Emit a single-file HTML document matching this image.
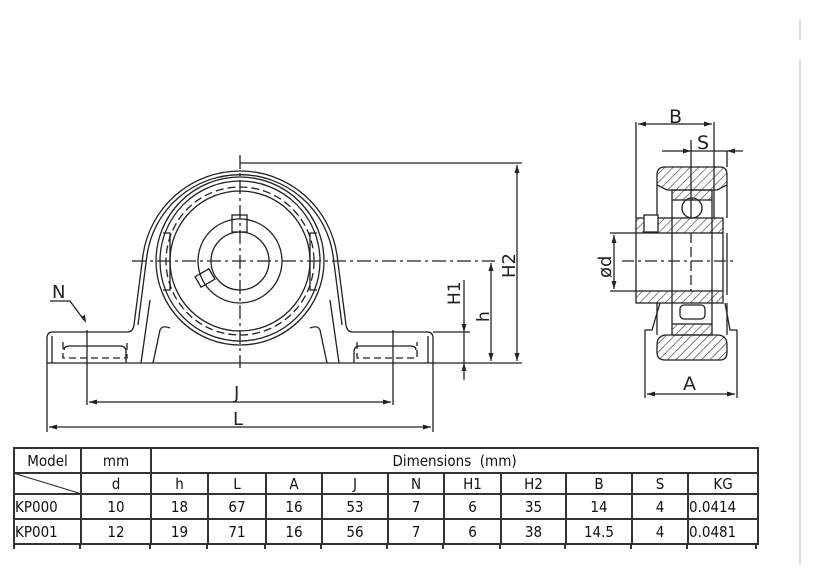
<!DOCTYPE html>
<html><head><meta charset="utf-8"><style>
html,body{margin:0;padding:0;background:#fff;}
body{width:820px;height:572px;position:relative;overflow:hidden;font-family:"Liberation Sans",sans-serif;}
svg{position:absolute;left:0;top:0;}
table{position:absolute;left:13px;top:447px;border-collapse:collapse;table-layout:fixed;width:744px;font-size:15px;color:#111;font-family:"DejaVu Sans Condensed","Liberation Sans",sans-serif;}
td{border:2px solid #333;text-align:center;padding:0;line-height:18px;overflow:hidden;white-space:nowrap;}
</style></head><body>
<svg width="820" height="572" viewBox="0 0 820 572" fill="none" stroke="#222" stroke-width="1.3">
<defs>
<pattern id="h" width="6" height="6" patternUnits="userSpaceOnUse" patternTransform="rotate(45)">
<line x1="0" y1="0" x2="0" y2="6" stroke="#333" stroke-width="1.2"/></pattern>
</defs>
<line x1="800" y1="20" x2="800" y2="40" stroke="#ccc"/>
<line x1="800" y1="60" x2="800" y2="565" stroke="#ccc"/>
<path d="M47,338 Q47,332 53,332 L127,332 Q133,332 134,325 L143,255 A98,98 0 0 1 337,255 L346,325 Q347,332 353,332 L427,332 Q433,332 433,338 L433,363 L47,363 Z"/>
<path d="M52,336 L52,363 M428,336 L428,363"/>
<path d="M138,325 L147,255 A94,94 0 0 1 333,255 L342,325" />
<path d="M141,363 L150,300 M339,363 L330,300"/>
<path d="M153,363 L160,330 Q162,325 170,328 M327,363 L320,330 Q318,325 310,328"/>
<circle cx="240" cy="261" r="84"/>
<circle cx="240" cy="261" r="80"/>
<circle cx="240" cy="261" r="74" stroke-dasharray="8 4"/>
<circle cx="240" cy="261" r="70"/>
<circle cx="240" cy="261" r="42"/>
<circle cx="240" cy="261" r="29"/>
<rect x="232" y="215" width="15" height="17"/>
<rect x="197" y="272" width="16" height="12" transform="rotate(-30 205 278)"/>
<path d="M163,233 L170,233 L170,290 L163,290 M317,233 L310,233 L310,290 L317,290"/>
<path d="M63,342 L63,358 L127,358 L127,342 M357,342 L357,358 L417,358 L417,342" stroke-dasharray="7 4"/>
<path d="M64,350 Q64,346 70,346 L120,346 Q126,346 126,352 L126,363 M416,350 Q416,346 410,346 L360,346 Q354,346 354,352 L354,363"/>
<line x1="240" y1="155" x2="240" y2="368" stroke-dasharray="14 4 3 4"/>
<line x1="132" y1="261" x2="495" y2="261" stroke-dasharray="14 4 3 4"/>
<line x1="87" y1="330" x2="87" y2="405"/>
<line x1="393" y1="330" x2="393" y2="405"/>
<line x1="47" y1="363" x2="47" y2="432"/>
<line x1="433" y1="363" x2="433" y2="432"/>
<line x1="240" y1="163" x2="522" y2="163"/>
<line x1="433" y1="363" x2="522" y2="363"/>
<line x1="433" y1="332" x2="470" y2="332"/>
<line x1="89" y1="402" x2="391" y2="402"/>
<line x1="49" y1="427" x2="431" y2="427"/>
<line x1="464" y1="280" x2="464" y2="380"/>
<line x1="491" y1="263" x2="491" y2="361"/>
<line x1="517" y1="165" x2="517" y2="361"/>
<path d="M50,301 L70,301 L84,320" />
<g fill="#222" stroke="none">
<path d="M89,402 l8,-2.5 v5z M391,402 l-8,-2.5 v5z M49,427 l8,-2.5 v5z M431,427 l-8,-2.5 v5z"/>
<path d="M464,332 l-2.5,-8 h5z M464,363 l-2.5,8 h5z M491,263 l-2.5,8 h5z M491,361 l-2.5,-8 h5z M517,165 l-2.5,8 h5z M517,361 l-2.5,-8 h5z M86,323 l-5,-6 4,-2z"/>
</g>
<g fill="#222" stroke="none" font-family="DejaVu Sans,Liberation Sans,sans-serif" font-size="18">
<text x="234" y="399">J</text>
<text x="233" y="425">L</text>
<text x="52" y="298">N</text>
<text transform="translate(460,305) rotate(-90)" font-size="17">H1</text>
<text transform="translate(489,322) rotate(-90)" font-size="17">h</text>
<text transform="translate(515,278) rotate(-90)" font-size="18">H2</text>
</g>
<line x1="636" y1="122" x2="636" y2="218"/>
<line x1="714" y1="122" x2="714" y2="218"/>
<line x1="638" y1="124" x2="712" y2="124"/>
<line x1="662" y1="151" x2="743" y2="151"/>
<line x1="691" y1="140" x2="691" y2="218"/>
<line x1="727" y1="151" x2="727" y2="167"/>
<path d="M645,360 L645,330 L652,330 L660,303 M737,360 L737,330 L730,330 L725,303"/>
<path d="M657,185 L657,218 M727,185 L727,218 M657,303 L657,335 M727,303 L727,335"/>
<path d="M657,175 Q657,167 665,167 L720,167 Q727,167 727,175 L727,185 L717,190 L667,190 L657,185 Z" fill="url(#h)"/>
<path d="M657,345 Q657,335 667,335 L717,335 Q727,335 727,345 L727,352 Q727,360 720,360 L665,360 Q657,360 657,352 Z" fill="url(#h)"/>
<rect x="672" y="190" width="40" height="10" fill="url(#h)"/>
<rect x="672" y="324" width="40" height="11" fill="url(#h)"/>
<circle cx="692" cy="208" r="10"/>
<rect x="680" y="305" width="25" height="14" rx="4"/>
<rect x="636" y="218" width="87" height="15" fill="url(#h)"/>
<rect x="636" y="291" width="87" height="12" fill="url(#h)"/>
<rect x="644" y="215" width="14" height="17" fill="#fff"/>
<path d="M636,233 L636,291 M723,233 L723,291 M727,233 L727,295"/>
<line x1="672" y1="200" x2="672" y2="324"/>
<line x1="712" y1="200" x2="712" y2="324"/>
<line x1="691" y1="233" x2="691" y2="291" stroke-dasharray="10 4"/>
<line x1="622" y1="261" x2="735" y2="261" stroke-dasharray="12 4 3 4"/>
<line x1="610" y1="233" x2="636" y2="233"/>
<line x1="610" y1="291" x2="636" y2="291"/>
<line x1="614" y1="235" x2="614" y2="289"/>
<line x1="645" y1="360" x2="645" y2="398"/>
<line x1="737" y1="360" x2="737" y2="398"/>
<line x1="647" y1="394" x2="735" y2="394"/>
<g fill="#222" stroke="none">
<path d="M638,124 l8,-2.5 v5z M712,124 l-8,-2.5 v5z M691,151 l-8,-2.5 v5z M727,151 l8,-2.5 v5z M614,235 l-2.5,8 h5z M614,289 l-2.5,-8 h5z M647,394 l8,-2.5 v5z M735,394 l-8,-2.5 v5z"/>
</g>
<g fill="#222" stroke="none" font-family="DejaVu Sans,Liberation Sans,sans-serif" font-size="19">
<text x="669" y="123">B</text>
<text x="697" y="149">S</text>
<text x="683" y="390">A</text>
<text transform="translate(611,278) rotate(-90)" font-size="18">ød</text>
</g>
</svg>
<table>
<colgroup><col style="width:67px"><col style="width:70px"><col style="width:57px"><col style="width:58px"><col style="width:56px"><col style="width:66px"><col style="width:56px"><col style="width:57px"><col style="width:65px"><col style="width:66px"><col style="width:56px"><col style="width:70px"></colgroup>
<tr style="height:25px"><td>Model</td><td>mm</td><td colspan="10">Dimensions&nbsp; (mm)</td><td>Weight</td></tr>
<tr style="height:21px"><td style="background-image:linear-gradient(17deg,transparent 48%,#333 49%,#333 51%,transparent 52%)"></td><td>d</td><td>h</td><td>L</td><td>A</td><td>J</td><td>N</td><td>H1</td><td>H2</td><td>B</td><td>S</td><td>KG</td></tr>
<tr style="height:25px"><td style="text-align:left">KP000</td><td>10</td><td>18</td><td>67</td><td>16</td><td>53</td><td>7</td><td>6</td><td>35</td><td>14</td><td>4</td><td style="text-align:left">0.0414</td></tr>
<tr style="height:25px"><td style="text-align:left">KP001</td><td>12</td><td>19</td><td>71</td><td>16</td><td>56</td><td>7</td><td>6</td><td>38</td><td>14.5</td><td>4</td><td style="text-align:left">0.0481</td></tr>
</table>
<div style="position:absolute;left:13px;top:545px;width:744px;height:4px;">
<svg width="744" height="4" style="position:absolute;left:0;top:0" stroke="#333" stroke-width="2">
<path d="M1,0V4M67,0V4M137,0V4M194,0V4M252,0V4M308,0V4M374,0V4M430,0V4M487,0V4M552,0V4M618,0V4M674,0V4M743,0V4"/>
</svg></div>
</body></html>
